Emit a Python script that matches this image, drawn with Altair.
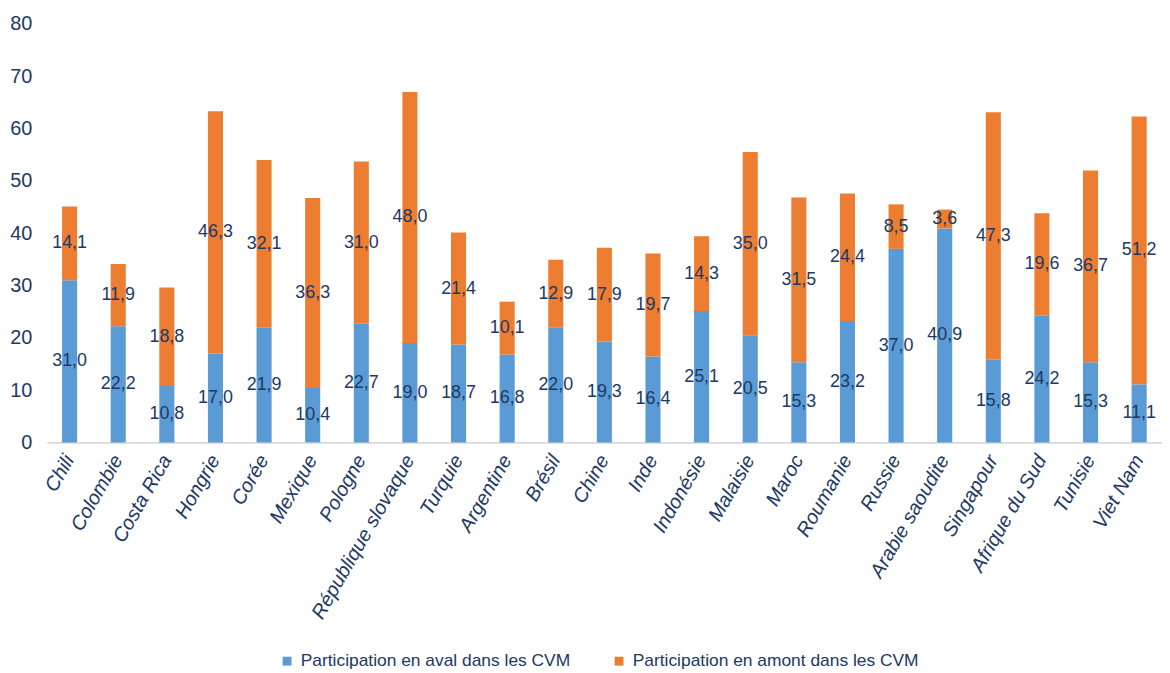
import altair as alt
import pandas as pd

countries = ["Chili", "Colombie", "Costa Rica", "Hongrie", "Corée", "Mexique", "Pologne",
             "République slovaque", "Turquie", "Argentine", "Brésil", "Chine", "Inde",
             "Indonésie", "Malaisie", "Maroc", "Roumanie", "Russie", "Arabie saoudite",
             "Singapour", "Afrique du Sud", "Tunisie", "Viet Nam"]
aval = [31.0, 22.2, 10.8, 17.0, 21.9, 10.4, 22.7, 19.0, 18.7, 16.8, 22.0, 19.3, 16.4,
        25.1, 20.5, 15.3, 23.2, 37.0, 40.9, 15.8, 24.2, 15.3, 11.1]
amont = [14.1, 11.9, 18.8, 46.3, 32.1, 36.3, 31.0, 48.0, 21.4, 10.1, 12.9, 17.9, 19.7,
         14.3, 35.0, 31.5, 24.4, 8.5, 3.6, 47.3, 19.6, 36.7, 51.2]
y_ticks = [0, 10, 20, 30, 40, 50, 60, 70, 80]
series = ["Participation en aval dans les CVM", "Participation en amont dans les CVM"]
colors = ["#5B9BD5", "#ED7D31"]

rows = []
for c, a, b in zip(countries, aval, amont):
    for k, (s, v) in enumerate(zip(series, [a, b])):
        rows.append({"pays": c, "serie": s, "ordre": k, "valeur": v,
                     "etiquette": f"{v:.1f}".replace(".", ",")})
df = pd.DataFrame(rows)

FONT = "Liberation Sans, Arial, sans-serif"
NAVY = "#203864"

x_axis = alt.Axis(labelAngle=-60, labelFontSize=20, labelFontStyle="italic",
                  labelColor=NAVY, labelFont=FONT, ticks=False, grid=False,
                  domainColor="#D9D9D9", domainWidth=2, labelPadding=14,
                  labelAlign="right", labelBaseline="middle", labelLimit=400)
y_axis = alt.Axis(values=y_ticks, grid=False, domain=False, ticks=False, labelFontSize=20,
                  labelColor=NAVY, labelFont=FONT, labelPadding=15)
x_scale = alt.Scale(paddingInner=0.69, paddingOuter=0.315)
y_scale = alt.Scale(domain=[0, 80])

base = alt.Chart(df).transform_stack(
    stack="valeur", groupby=["pays"], as_=["y0", "y1"],
    sort=[alt.SortField("ordre", order="ascending")]
).transform_calculate(mid="(datum.y0 + datum.y1) / 2")

bars = base.mark_bar().encode(
    x=alt.X("pays:N", sort=countries, title=None, scale=x_scale, axis=x_axis),
    y=alt.Y("y0:Q", title=None, scale=y_scale, axis=y_axis),
    y2="y1:Q",
    color=alt.Color("serie:N", scale=alt.Scale(domain=series, range=colors),
                    legend=alt.Legend(title=None, orient="none", legendX=233, legendY=632,
                                      direction="horizontal", symbolType="square",
                                      symbolSize=80, symbolStrokeWidth=0,
                                      labelFontSize=17.5, labelFont=FONT, labelColor=NAVY,
                                      columnPadding=40, labelOffset=5, labelLimit=400)),
)

texts = base.mark_text(fontSize=18, font=FONT, color=NAVY, baseline="middle").encode(
    x=alt.X("pays:N", sort=countries, title=None, scale=x_scale, axis=x_axis),
    y=alt.Y("mid:Q", title=None, scale=y_scale, axis=y_axis),
    text="etiquette:N",
)

chart = alt.layer(bars, texts).properties(
    width=1122, height=421,
    background="white",
    autosize=alt.AutoSizeParams(type="none"),
    padding={"left": 39, "top": 14, "right": 0, "bottom": 228},
).configure_view(strokeWidth=0, stroke="transparent")

chart.save("out.html", embed_options={"renderer": "svg", "actions": False})
